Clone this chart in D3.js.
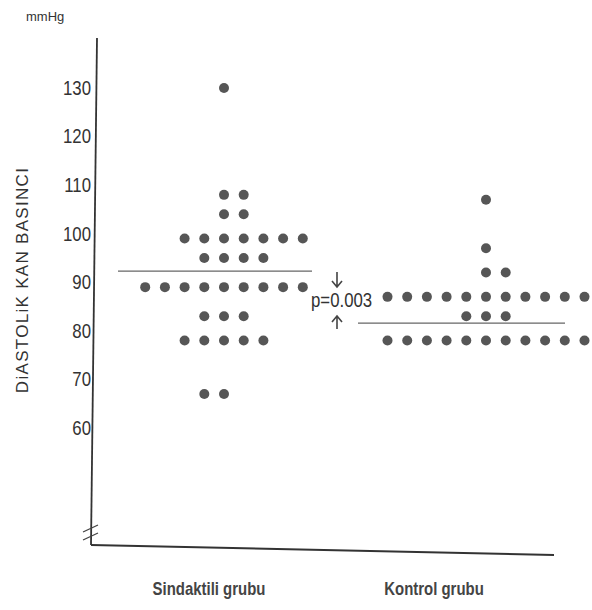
<!DOCTYPE html>
<html lang="tr">
<head>
    <meta charset="UTF-8">
    <title>Diastolik kan basinci</title>
    <script src="https://d3js.org/d3.v7.min.js"></script>
    <style>
        body { margin: 0; background: #fff; }
        text { fill: #333; font-family: 'Liberation Sans', Arial, sans-serif; }
        .tick text { font-size: 20px; }
        .title { font-size: 17px; letter-spacing: 1.3px; }
        .unit { font-size: 13px; }
        .group { font-size: 18px; font-weight: bold; fill: #444; }
        .pval { font-size: 20px; }
    </style>
</head>
<body>
<script>

    const width  = 592;
    const height = 610;

    const groups = ['Sindaktili grubu', 'Kontrol grubu'];
    const yTicks = [60, 70, 80, 90, 100, 110, 120, 130];

    // dot rows: value, number of dots, column of first dot
    const sindaktiliValues = [130, 108, 104, 99, 95, 89, 83, 78, 67];
    const sindaktiliCounts = [1, 2, 2, 7, 4, 9, 3, 5, 2];
    const sindaktiliStart  = [0, 0, 0, -2, -1, -4, -1, -2, -1];

    const kontrolValues = [107, 97, 92, 87, 83, 78];
    const kontrolCounts = [1, 1, 2, 11, 3, 11];
    const kontrolStart  = [0, 0, 0, -5, -1, -5];

    const means = [92.3, 81.6];
    const pValue = 'p=0.003';

    const narrow = 0.84; // the scan uses a condensed face

    const svg = d3.select('body')
            .append('svg')
            .attr('width', width)
            .attr('height', height);

    const y = d3.scaleLinear()
            .domain([60, 130])
            .range([428, 88]);

    const x = d3.scalePoint()
            .domain(groups)
            .range([224, 486]);

    const col = d3.scaleLinear()
            .domain([0, 1])
            .range([0, 19.7]);

    function rows(values, counts, start, g) {
        const out = [];
        values.forEach((v, i) => {
            for (let k = 0; k < counts[i]; k++) {
                out.push({group: g, value: v, col: start[i] + k});
            }
        });
        return out;
    }

    const dots = rows(sindaktiliValues, sindaktiliCounts, sindaktiliStart, groups[0])
            .concat(rows(kontrolValues, kontrolCounts, kontrolStart, groups[1]));

    // y axis labels only
    const yAxis = d3.axisLeft(y)
            .tickValues(yTicks)
            .tickSize(0)
            .tickPadding(6);

    const gy = svg.append('g')
            .attr('transform', 'translate(97,0)')
            .call(yAxis);
    gy.select('.domain').remove();
    gy.selectAll('.tick text')
            .attr('fill', '#333')
            .attr('x', -6 / narrow)
            .attr('transform', 'scale(' + narrow + ',1)');

    // axis lines (slightly skewed like the scan)
    svg.append('line')
            .attr('x1', 97).attr('y1', 38)
            .attr('x2', 91).attr('y2', 545)
            .attr('stroke', '#333').attr('stroke-width', 1.8);
    svg.append('line')
            .attr('x1', 91).attr('y1', 545)
            .attr('x2', 554).attr('y2', 555)
            .attr('stroke', '#333').attr('stroke-width', 2);

    // axis break
    [0, 8].forEach(d => {
        svg.append('line')
                .attr('x1', 83).attr('y1', 532 + d)
                .attr('x2', 98).attr('y2', 525 + d)
                .attr('stroke', '#444').attr('stroke-width', 1.3);
    });

    // mean lines
    const meanSpan = [[-106, 88], [-128, 79]];
    svg.selectAll('.mean')
            .data(means)
            .enter()
            .append('line')
            .attr('class', 'mean')
            .attr('x1', (d, i) => x(groups[i]) + meanSpan[i][0])
            .attr('x2', (d, i) => x(groups[i]) + meanSpan[i][1])
            .attr('y1', d => y(d))
            .attr('y2', d => y(d))
            .attr('stroke', '#666')
            .attr('stroke-width', 1.3);

    svg.selectAll('.dot')
            .data(dots)
            .enter()
            .append('circle')
            .attr('class', 'dot')
            .attr('cx', d => x(d.group) + col(d.col))
            .attr('cy', d => y(d.value))
            .attr('r', 5)
            .attr('fill', '#565656');

    // p value with arrows
    svg.append('text')
            .attr('class', 'pval')
            .attr('transform', 'translate(311,307) scale(' + narrow + ',1)')
            .text(pValue);

    const arrow = svg.append('g')
            .attr('stroke', '#444')
            .attr('stroke-width', 1.6)
            .attr('fill', 'none');
    arrow.append('path').attr('d', 'M337,272V287M332,281L337,287L342,281');
    arrow.append('path').attr('d', 'M337,329V316M332,322L337,316L342,322');

    // texts
    svg.append('text')
            .attr('class', 'unit')
            .attr('x', 26)
            .attr('y', 21)
            .text('mmHg');

    svg.append('text')
            .attr('class', 'title')
            .attr('transform', 'translate(28,280) rotate(-90)')
            .attr('text-anchor', 'middle')
            .text('DiASTOLiK KAN BASINCI');

    const labelX = [209, 434];
    svg.selectAll('.group')
            .data(groups)
            .enter()
            .append('text')
            .attr('class', 'group')
            .attr('transform', (d, i) => 'translate(' + labelX[i] + ',595) scale(0.83,1)')
            .attr('text-anchor', 'middle')
            .text(d => d);

</script>
</body>
</html>
